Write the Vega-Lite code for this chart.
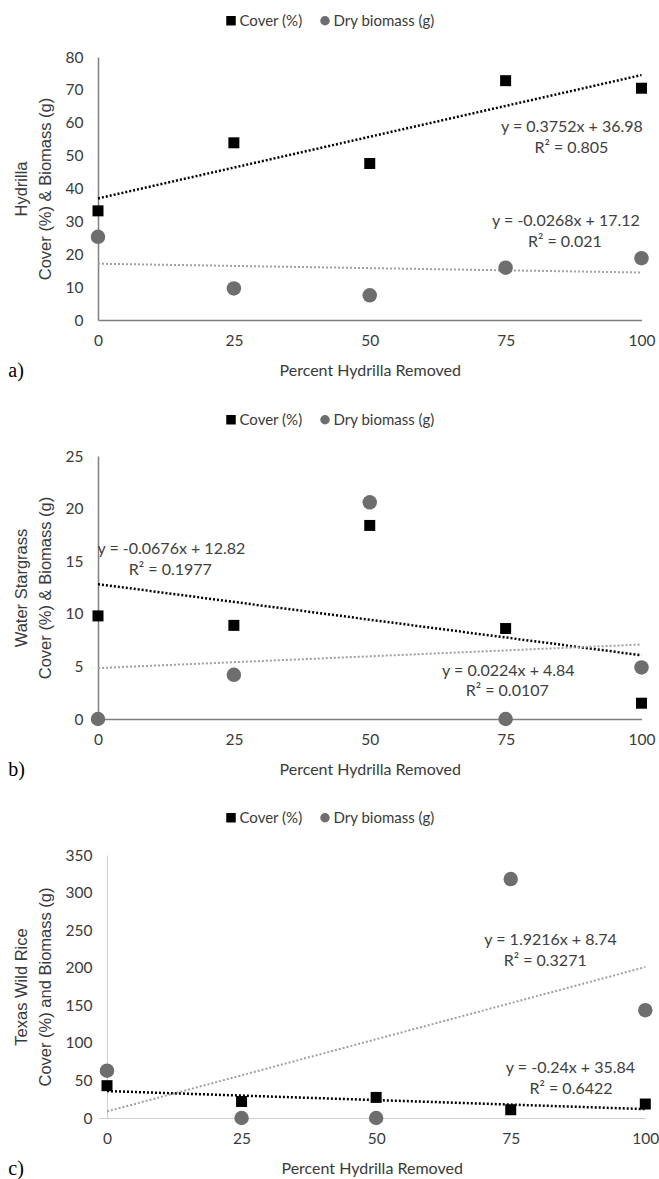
{
  "$schema": "https://vega.github.io/schema/vega-lite/v6.json",
  "background": "white",
  "padding": {"left": 8, "top": 13, "right": 0, "bottom": 0},
  "bounds": "flush",
  "spacing": 136,
  "datasets": {
    "pts": [
      {"panel": "a", "series": "Cover (%)", "x": 0, "y": 33.2},
      {"panel": "a", "series": "Cover (%)", "x": 25, "y": 53.9},
      {"panel": "a", "series": "Cover (%)", "x": 50, "y": 47.6},
      {"panel": "a", "series": "Cover (%)", "x": 75, "y": 72.8},
      {"panel": "a", "series": "Cover (%)", "x": 100, "y": 70.5},
      {"panel": "a", "series": "Dry biomass (g)", "x": 0, "y": 25.3},
      {"panel": "a", "series": "Dry biomass (g)", "x": 25, "y": 9.6},
      {"panel": "a", "series": "Dry biomass (g)", "x": 50, "y": 7.5},
      {"panel": "a", "series": "Dry biomass (g)", "x": 75, "y": 15.9},
      {"panel": "a", "series": "Dry biomass (g)", "x": 100, "y": 18.8},
      {"panel": "b", "series": "Cover (%)", "x": 0, "y": 9.8},
      {"panel": "b", "series": "Cover (%)", "x": 25, "y": 8.9},
      {"panel": "b", "series": "Cover (%)", "x": 50, "y": 18.4},
      {"panel": "b", "series": "Cover (%)", "x": 75, "y": 8.6},
      {"panel": "b", "series": "Cover (%)", "x": 100, "y": 1.5},
      {"panel": "b", "series": "Dry biomass (g)", "x": 0, "y": 0},
      {"panel": "b", "series": "Dry biomass (g)", "x": 25, "y": 4.2},
      {"panel": "b", "series": "Dry biomass (g)", "x": 50, "y": 20.6},
      {"panel": "b", "series": "Dry biomass (g)", "x": 75, "y": 0},
      {"panel": "b", "series": "Dry biomass (g)", "x": 100, "y": 4.9},
      {"panel": "c", "series": "Cover (%)", "x": 0, "y": 43},
      {"panel": "c", "series": "Cover (%)", "x": 25, "y": 22},
      {"panel": "c", "series": "Cover (%)", "x": 50, "y": 27.4},
      {"panel": "c", "series": "Cover (%)", "x": 75, "y": 11},
      {"panel": "c", "series": "Cover (%)", "x": 100, "y": 18.6},
      {"panel": "c", "series": "Dry biomass (g)", "x": 0, "y": 63},
      {"panel": "c", "series": "Dry biomass (g)", "x": 25, "y": 0},
      {"panel": "c", "series": "Dry biomass (g)", "x": 50, "y": 0},
      {"panel": "c", "series": "Dry biomass (g)", "x": 75, "y": 318},
      {"panel": "c", "series": "Dry biomass (g)", "x": 100, "y": 143.5}
    ],
    "trend": [
      {"panel": "a", "series": "Cover (%)", "x": 0, "y": 36.98},
      {"panel": "a", "series": "Cover (%)", "x": 100, "y": 74.5},
      {"panel": "a", "series": "Dry biomass (g)", "x": 0, "y": 17.12},
      {"panel": "a", "series": "Dry biomass (g)", "x": 100, "y": 14.44},
      {"panel": "b", "series": "Cover (%)", "x": 0, "y": 12.82},
      {"panel": "b", "series": "Cover (%)", "x": 100, "y": 6.06},
      {"panel": "b", "series": "Dry biomass (g)", "x": 0, "y": 4.84},
      {"panel": "b", "series": "Dry biomass (g)", "x": 100, "y": 7.08},
      {"panel": "c", "series": "Cover (%)", "x": 0, "y": 35.84},
      {"panel": "c", "series": "Cover (%)", "x": 100, "y": 11.84},
      {"panel": "c", "series": "Dry biomass (g)", "x": 0, "y": 8.74},
      {"panel": "c", "series": "Dry biomass (g)", "x": 100, "y": 200.9}
    ],
    "eqs": [
      {"panel": "a", "x": 87.2, "y": 58.6, "label": "y = 0.3752x + 36.98"},
      {"panel": "a", "x": 87.1, "y": 52.4, "label": "R² = 0.805"},
      {"panel": "a", "x": 86.1, "y": 30.1, "label": "y = -0.0268x + 17.12"},
      {"panel": "a", "x": 85.9, "y": 23.8, "label": "R² = 0.021"},
      {"panel": "b", "x": 13.5, "y": 16.2, "label": "y = -0.0676x + 12.82"},
      {"panel": "b", "x": 13.3, "y": 14.2, "label": "R² = 0.1977"},
      {"panel": "b", "x": 75.5, "y": 4.57, "label": "y = 0.0224x + 4.84"},
      {"panel": "b", "x": 75.3, "y": 2.67, "label": "R² = 0.0107"},
      {"panel": "c", "x": 82.4, "y": 237.3, "label": "y = 1.9216x + 8.74"},
      {"panel": "c", "x": 81.4, "y": 208.4, "label": "R² = 0.3271"},
      {"panel": "c", "x": 86.1, "y": 66.3, "label": "y = -0.24x + 35.84"},
      {"panel": "c", "x": 86.2, "y": 38.3, "label": "R² = 0.6422"}
    ]
  },
  "vconcat": [
    {
      "width": 543.5,
      "height": 263,
      "title": {"text": "a)", "orient": "bottom", "anchor": "start", "frame": "group", "dx": -89.7, "offset": -18, "font": "Liberation Serif", "fontSize": 20, "fontWeight": "normal", "color": "#000000"},
      "encoding": {
        "x": {"field": "x", "type": "quantitative", "scale": {"domain": [0, 100], "nice": false, "zero": false}, "axis": {"values": [0, 25, 50, 75, 100], "title": "Percent Hydrilla Removed"}},
        "y": {"field": "y", "type": "quantitative", "scale": {"domain": [0, 80], "nice": false}, "axis": {"values": [0, 10, 20, 30, 40, 50, 60, 70, 80], "title": ["Hydrilla", "Cover (%) & Biomass (g)"]}}
      },
      "layer": [
        {
          "data": {"name": "trend"},
          "transform": [{"filter": "datum.panel === 'a'"}],
          "mark": {"type": "line", "strokeDash": [2, 2]},
          "encoding": {
            "detail": {"field": "series"},
            "color": {"condition": {"test": "datum.series === 'Cover (%)'", "value": "#000000"}, "value": "#a0a0a0"},
            "strokeWidth": {"condition": {"test": "datum.series === 'Cover (%)'", "value": 2.5}, "value": 2}
          }
        },
        {
          "data": {"name": "pts"},
          "transform": [{"filter": "datum.panel === 'a'"}],
          "mark": {"type": "point", "filled": true, "opacity": 1},
          "encoding": {
            "shape": {"field": "series", "type": "nominal", "scale": {"domain": ["Cover (%)", "Dry biomass (g)"], "range": ["square", "circle"]}, "legend": {"orient": "none", "legendX": 125.5, "legendY": -44, "direction": "horizontal", "title": null}},
            "color": {"field": "series", "type": "nominal", "scale": {"domain": ["Cover (%)", "Dry biomass (g)"], "range": ["#000000", "#6e6e6e"]}, "legend": {"orient": "none", "legendX": 125.5, "legendY": -44, "direction": "horizontal", "title": null}},
            "size": {"condition": {"test": "datum.series === 'Cover (%)'", "value": 121}, "value": 210}
          }
        },
        {
          "data": {"name": "eqs"},
          "transform": [{"filter": "datum.panel === 'a'"}],
          "mark": {"type": "text", "font": "Lato", "fontSize": 16, "color": "#404040", "align": "center", "baseline": "middle"},
          "encoding": {"text": {"field": "label"}}
        }
      ]
    },
    {
      "width": 543.5,
      "height": 263,
      "title": {"text": "b)", "orient": "bottom", "anchor": "start", "frame": "group", "dx": -89.7, "offset": -18, "font": "Liberation Serif", "fontSize": 20, "fontWeight": "normal", "color": "#000000"},
      "encoding": {
        "x": {"field": "x", "type": "quantitative", "scale": {"domain": [0, 100], "nice": false, "zero": false}, "axis": {"values": [0, 25, 50, 75, 100], "title": "Percent Hydrilla Removed"}},
        "y": {"field": "y", "type": "quantitative", "scale": {"domain": [0, 25], "nice": false}, "axis": {"values": [0, 5, 10, 15, 20, 25], "title": ["Water Stargrass", "Cover (%) & Biomass (g)"]}}
      },
      "layer": [
        {
          "data": {"name": "trend"},
          "transform": [{"filter": "datum.panel === 'b'"}],
          "mark": {"type": "line", "strokeDash": [2, 2]},
          "encoding": {
            "detail": {"field": "series"},
            "color": {"condition": {"test": "datum.series === 'Cover (%)'", "value": "#000000"}, "value": "#a0a0a0"},
            "strokeWidth": {"condition": {"test": "datum.series === 'Cover (%)'", "value": 2.5}, "value": 2}
          }
        },
        {
          "data": {"name": "pts"},
          "transform": [{"filter": "datum.panel === 'b'"}],
          "mark": {"type": "point", "filled": true, "opacity": 1},
          "encoding": {
            "shape": {"field": "series", "type": "nominal", "scale": {"domain": ["Cover (%)", "Dry biomass (g)"], "range": ["square", "circle"]}, "legend": {"orient": "none", "legendX": 125.5, "legendY": -44, "direction": "horizontal", "title": null}},
            "color": {"field": "series", "type": "nominal", "scale": {"domain": ["Cover (%)", "Dry biomass (g)"], "range": ["#000000", "#6e6e6e"]}, "legend": {"orient": "none", "legendX": 125.5, "legendY": -44, "direction": "horizontal", "title": null}},
            "size": {"condition": {"test": "datum.series === 'Cover (%)'", "value": 121}, "value": 210}
          }
        },
        {
          "data": {"name": "eqs"},
          "transform": [{"filter": "datum.panel === 'b'"}],
          "mark": {"type": "text", "font": "Lato", "fontSize": 16, "color": "#404040", "align": "center", "baseline": "middle"},
          "encoding": {"text": {"field": "label"}}
        }
      ]
    },
    {
      "width": 547.3,
      "height": 263,
      "title": {"text": "c)", "orient": "bottom", "anchor": "start", "frame": "group", "dx": -89.7, "offset": -18, "font": "Liberation Serif", "fontSize": 20, "fontWeight": "normal", "color": "#000000"},
      "encoding": {
        "x": {"field": "x", "type": "quantitative", "scale": {"domain": [-1.673, 100], "nice": false, "zero": false}, "axis": {"values": [0, 25, 50, 75, 100], "title": "Percent Hydrilla Removed", "domainColor": "#d0d0d0", "domainWidth": 1}},
        "y": {"field": "y", "type": "quantitative", "scale": {"domain": [0, 350], "nice": false}, "axis": {"values": [0, 50, 100, 150, 200, 250, 300, 350], "offset": -9, "title": ["Texas Wild Rice", "Cover (%) and Biomass (g)"], "domainColor": "#d0d0d0", "domainWidth": 1}}
      },
      "layer": [
        {
          "data": {"name": "trend"},
          "transform": [{"filter": "datum.panel === 'c'"}],
          "mark": {"type": "line", "strokeDash": [2, 2]},
          "encoding": {
            "detail": {"field": "series"},
            "color": {"condition": {"test": "datum.series === 'Cover (%)'", "value": "#000000"}, "value": "#a0a0a0"},
            "strokeWidth": {"condition": {"test": "datum.series === 'Cover (%)'", "value": 2.5}, "value": 2}
          }
        },
        {
          "data": {"name": "pts"},
          "transform": [{"filter": "datum.panel === 'c'"}],
          "mark": {"type": "point", "filled": true, "opacity": 1},
          "encoding": {
            "shape": {"field": "series", "type": "nominal", "scale": {"domain": ["Cover (%)", "Dry biomass (g)"], "range": ["square", "circle"]}, "legend": {"orient": "none", "legendX": 125.5, "legendY": -45, "direction": "horizontal", "title": null}},
            "color": {"field": "series", "type": "nominal", "scale": {"domain": ["Cover (%)", "Dry biomass (g)"], "range": ["#000000", "#6e6e6e"]}, "legend": {"orient": "none", "legendX": 125.5, "legendY": -45, "direction": "horizontal", "title": null}},
            "size": {"condition": {"test": "datum.series === 'Cover (%)'", "value": 121}, "value": 210}
          }
        },
        {
          "data": {"name": "eqs"},
          "transform": [{"filter": "datum.panel === 'c'"}],
          "mark": {"type": "text", "font": "Lato", "fontSize": 16, "color": "#404040", "align": "center", "baseline": "middle"},
          "encoding": {"text": {"field": "label"}}
        }
      ]
    }
  ],
  "resolve": {"legend": {"color": "independent", "shape": "independent"}},
  "config": {
    "view": {"stroke": null},
    "axis": {
      "labelFont": "Lato", "labelFontSize": 15.5, "labelColor": "#3a3a3a", "labelFlush": false,
      "ticks": false, "grid": false, "domainColor": "#808080", "domainWidth": 1.5,
      "titleFontWeight": "normal", "titleColor": "#3a3a3a"
    },
    "axisX": {"labelPadding": 13, "titleFont": "Lato", "titleFontSize": 16, "titlePadding": 14},
    "axisY": {"labelPadding": 15, "titleFont": "Liberation Sans", "titleFontSize": 16.5, "titleLineHeight": 23.5, "titlePadding": 12},
    "legend": {"padding": 0, "symbolSize": 90, "symbolStrokeWidth": 0, "labelFont": "Lato", "labelFontSize": 15, "labelColor": "#3a3a3a", "labelOffset": 1, "columnPadding": 15}
  }
}
